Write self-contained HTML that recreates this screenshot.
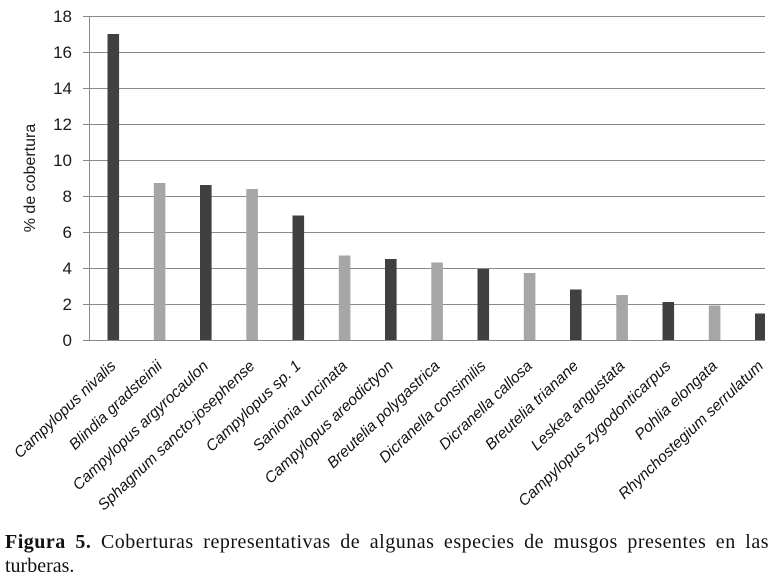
<!DOCTYPE html>
<html>
<head>
<meta charset="utf-8">
<style>
  html, body { margin: 0; padding: 0; background: #ffffff; }
  body { width: 774px; height: 581px; position: relative; overflow: hidden; }
  svg { position: absolute; left: 0; top: 0; }
  .cap { position: absolute; left: 5px; width: 764px; font-family: "Liberation Serif", serif; font-size: 20px; line-height: 20px; color: #111; white-space: nowrap; }
  .l1 { top: 532px; text-align: justify; text-align-last: justify; white-space: normal; letter-spacing: 0.5px; }
  .l2 { top: 556px; }
</style>
</head>
<body>
<svg width="774" height="581" viewBox="0 0 774 581" xmlns="http://www.w3.org/2000/svg">
  <defs>
    <clipPath id="pc"><rect x="0" y="0" width="765" height="581"/></clipPath>
  </defs>
  <g stroke="#8a8a8a" stroke-width="1" fill="none">
    <line x1="83" y1="16.5" x2="765" y2="16.5"/>
    <line x1="83" y1="52.5" x2="765" y2="52.5"/>
    <line x1="83" y1="88.5" x2="765" y2="88.5"/>
    <line x1="83" y1="124.5" x2="765" y2="124.5"/>
    <line x1="83" y1="160.5" x2="765" y2="160.5"/>
    <line x1="83" y1="196.5" x2="765" y2="196.5"/>
    <line x1="83" y1="232.5" x2="765" y2="232.5"/>
    <line x1="83" y1="268.5" x2="765" y2="268.5"/>
    <line x1="83" y1="304.5" x2="765" y2="304.5"/>
    <line x1="83" y1="340.5" x2="765" y2="340.5"/>
    <line x1="89.5" y1="16" x2="89.5" y2="341"/>
  </g>
  <g clip-path="url(#pc)">
    <rect x="107.5" y="34" width="11.6" height="306" fill="#404040"/>
    <rect x="153.8" y="183" width="11.6" height="157" fill="#a6a6a6"/>
    <rect x="200.0" y="185" width="11.6" height="155" fill="#404040"/>
    <rect x="246.3" y="189" width="11.6" height="151" fill="#a6a6a6"/>
    <rect x="292.5" y="215.5" width="11.6" height="124.5" fill="#404040"/>
    <rect x="338.8" y="255.5" width="11.6" height="84.5" fill="#a6a6a6"/>
    <rect x="385.0" y="259" width="11.6" height="81" fill="#404040"/>
    <rect x="431.3" y="262.5" width="11.6" height="77.5" fill="#a6a6a6"/>
    <rect x="477.5" y="269" width="11.6" height="71" fill="#404040"/>
    <rect x="523.8" y="273" width="11.6" height="67" fill="#a6a6a6"/>
    <rect x="570.0" y="289.5" width="11.6" height="50.5" fill="#404040"/>
    <rect x="616.3" y="295" width="11.6" height="45" fill="#a6a6a6"/>
    <rect x="662.5" y="302" width="11.6" height="38" fill="#404040"/>
    <rect x="708.8" y="305.5" width="11.6" height="34.5" fill="#a6a6a6"/>
    <rect x="755.0" y="313.5" width="11.6" height="26.5" fill="#404040"/>
  </g>
  <g font-family="Liberation Sans, sans-serif" font-size="17" fill="#1a1a1a" text-anchor="end">
    <text x="72" y="22">18</text>
    <text x="72" y="58">16</text>
    <text x="72" y="94">14</text>
    <text x="72" y="130">12</text>
    <text x="72" y="166">10</text>
    <text x="72" y="202">8</text>
    <text x="72" y="238">6</text>
    <text x="72" y="274">4</text>
    <text x="72" y="310">2</text>
    <text x="72" y="346">0</text>
  </g>
  <text x="35" y="178" transform="rotate(-90 35 178)" font-family="Liberation Sans, sans-serif" font-size="16" fill="#1a1a1a" text-anchor="middle">% de cobertura</text>
  <g font-family="Liberation Sans, sans-serif" font-size="15.5" font-style="italic" fill="#111" text-anchor="end">
    <text transform="translate(116.8 367) rotate(-43.5)">Campylopus nivalis</text>
    <text transform="translate(163.1 367) rotate(-43.5)">Blindia gradsteinii</text>
    <text transform="translate(209.3 367) rotate(-43.5)">Campylopus argyrocaulon</text>
    <text transform="translate(255.6 367) rotate(-43.5)">Sphagnum sancto-josephense</text>
    <text transform="translate(301.8 367) rotate(-43.5)">Campylopus sp. 1</text>
    <text transform="translate(348.1 367) rotate(-43.5)">Sanionia uncinata</text>
    <text transform="translate(394.3 367) rotate(-43.5)">Campylopus areodictyon</text>
    <text transform="translate(440.6 367) rotate(-43.5)">Breutelia polygastrica</text>
    <text transform="translate(486.8 367) rotate(-43.5)">Dicranella consimilis</text>
    <text transform="translate(533.1 367) rotate(-43.5)">Dicranella callosa</text>
    <text transform="translate(579.3 367) rotate(-43.5)">Breutelia trianane</text>
    <text transform="translate(625.6 367) rotate(-43.5)">Leskea angustata</text>
    <text transform="translate(671.8 367) rotate(-43.5)">Campylopus zygodonticarpus</text>
    <text transform="translate(718.1 367) rotate(-43.5)">Pohlia elongata</text>
    <text transform="translate(764.3 367) rotate(-43.5)">Rhynchostegium serrulatum</text>
  </g>
</svg>
<div class="cap l1"><b>Figura 5.</b> Coberturas representativas de algunas especies de musgos presentes en las</div>
<div class="cap l2">turberas.</div>
</body>
</html>
